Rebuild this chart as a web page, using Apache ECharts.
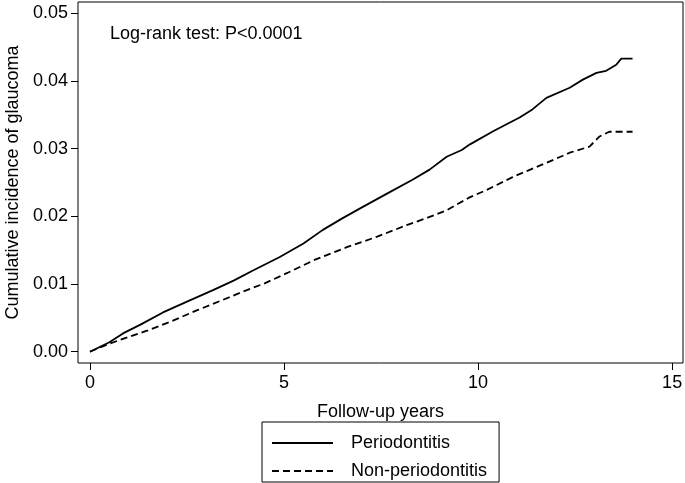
<!DOCTYPE html>
<html>
<head>
<meta charset="utf-8">
<script src="https://cdn.jsdelivr.net/npm/echarts@6/dist/echarts.min.js"></script>
<style>
html,body{margin:0;padding:0;background:#fff;}
#chart{width:685px;height:483px;}
</style>
</head>
<body>
<div id="chart"></div>
<script>
// Data (x = follow-up years, y = cumulative incidence)
const seriesNames = ['Periodontitis', 'Non-periodontitis'];
const periodontitis = [
  [0,0],[0.25,0.0007],[0.5,0.0014],[0.85,0.0027],[1.3,0.0040],[1.88,0.0058],[2.5,0.0074],
  [3.17,0.0091],[3.7,0.0105],[4.2,0.0120],[4.89,0.0140],[5.5,0.0160],[6.0,0.0180],[6.5,0.0197],
  [7.03,0.0214],[7.7,0.0235],[8.31,0.0254],[8.75,0.0269],[9.19,0.0288],[9.58,0.0298],[9.78,0.0306],
  [10.4,0.0326],[11.07,0.0346],[11.4,0.0358],[11.76,0.0375],[12.36,0.0390],[12.7,0.0402],
  [13.05,0.0412],[13.3,0.0415],[13.56,0.0424],[13.69,0.0433],[13.98,0.0433]
];
const nonPeriodontitis = [
  [0,0],[0.51,0.0012],[1.0,0.0022],[1.47,0.0031],[2.1,0.0045],[2.75,0.0061],[3.4,0.0076],
  [4.04,0.0091],[4.5,0.0101],[5.07,0.0116],[5.8,0.0136],[6.6,0.0154],[7.4,0.0170],[8.16,0.0187],
  [8.7,0.0198],[9.19,0.0209],[9.78,0.0228],[10.22,0.0239],[10.89,0.0258],[11.3,0.0268],
  [11.76,0.0279],[12.36,0.0294],[12.87,0.0303],[13.13,0.0318],[13.38,0.0325],[13.98,0.0325]
];
const xTicks = [0, 5, 10, 15];
const yTicks = [0, 0.01, 0.02, 0.03, 0.04, 0.05];
const annotation = 'Log-rank test: P<0.0001';
const xTitle = 'Follow-up years';
const yTitle = 'Cumulative incidence of glaucoma';

const FONT = '"Liberation Sans", Arial, Helvetica, sans-serif';
const chart = echarts.init(document.getElementById('chart'), null, {renderer: 'canvas'});
chart.setOption({
  animation: false,
  backgroundColor: '#ffffff',
  textStyle: {fontFamily: FONT},
  grid: {
    left: 78, right: 2, top: 2, bottom: 120,
    outerBoundsMode: 'none', containLabel: false,
    show: true, borderColor: '#000', borderWidth: 1, backgroundColor: 'transparent'
  },
  graphic: [{
    type: 'text', left: 110, top: 25,
    style: {text: annotation, fontSize: 18, fontFamily: FONT, fill: '#000'}
  }],
  legend: {
    orient: 'vertical',
    left: 262, top: 422,
    data: seriesNames,
    itemWidth: 61, itemHeight: 10, itemGap: 10,
    padding: [12, 12, 2, 9],
    borderColor: '#000', borderWidth: 1, borderRadius: 0,
    itemStyle: {opacity: 0},
    textStyle: {fontSize: 18, lineHeight: 18, color: '#000', fontFamily: FONT, padding: [0, 0, 0, 13]}
  },
  xAxis: {
    type: 'value',
    min: -0.309, max: 15.28,
    name: xTitle, nameLocation: 'middle', nameGap: 40,
    nameTextStyle: {fontSize: 18, color: '#000', fontFamily: FONT},
    axisLine: {show: false, onZero: false},
    axisTick: {show: true, inside: false, length: 7, customValues: xTicks, lineStyle: {color: '#000', width: 1}},
    axisLabel: {customValues: xTicks, fontSize: 18, color: '#000', margin: 11, fontFamily: FONT},
    splitLine: {show: false}
  },
  yAxis: {
    type: 'value',
    min: -0.00167, max: 0.05167,
    name: yTitle, nameLocation: 'middle', nameGap: 56, nameRotate: 90,
    nameTextStyle: {fontSize: 18, color: '#000', fontFamily: FONT},
    axisLine: {show: false, onZero: false},
    axisTick: {show: true, inside: false, length: 7, customValues: yTicks, lineStyle: {color: '#000', width: 1}},
    axisLabel: {customValues: yTicks, fontSize: 18, color: '#000', margin: 10, fontFamily: FONT,
      formatter: v => v.toFixed(2)},
    splitLine: {show: false}
  },
  series: [
    {
      name: seriesNames[0], type: 'line', data: periodontitis,
      showSymbol: false, symbol: 'none',
      lineStyle: {color: '#000', width: 1.8, type: 'solid'},
      itemStyle: {color: '#000'}
    },
    {
      name: seriesNames[1], type: 'line', data: nonPeriodontitis,
      showSymbol: false, symbol: 'none',
      lineStyle: {color: '#000', width: 1.8, type: [7, 4]},
      itemStyle: {color: '#000'}
    }
  ]
});
</script>
</body>
</html>
